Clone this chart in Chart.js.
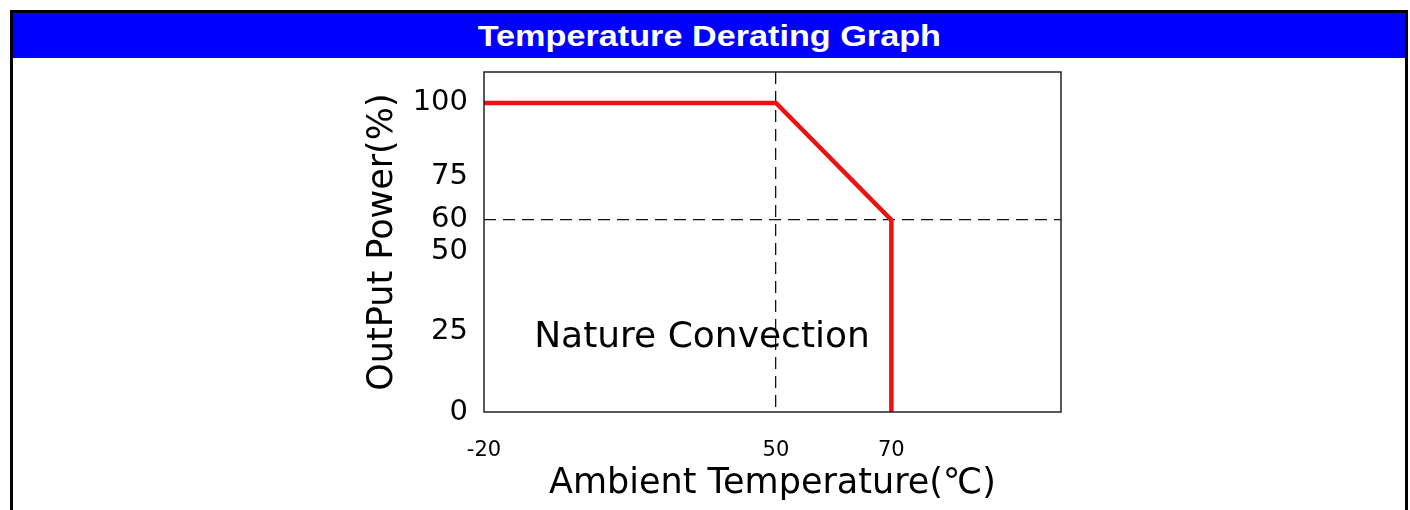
<!DOCTYPE html>
<html>
<head>
<meta charset="utf-8">
<title>Temperature Derating Graph</title>
<script src="https://cdn.jsdelivr.net/npm/chart.js@4.4.1/dist/chart.umd.min.js"></script>
<style>
  html, body { margin: 0; padding: 0; background: #fff; overflow: hidden; }
  #frame {
    position: absolute; left: 10px; top: 10px;
    width: 1392px; height: 500px;
    border: 3px solid #000; border-bottom: none;
  }
  #head {
    box-sizing: border-box;
    height: 45px; padding-top: 7px; line-height: 32px; overflow: hidden;
    background: #0000ff; color: #fff;
    font: bold 29px "Liberation Sans", Arial, sans-serif;
    text-align: center;
  }
  #head span { display: inline-block; transform: scaleX(1.18); }
  #derating { display: block; }
</style>
</head>
<body>
<div id="frame">
  <div id="head"><span>Temperature Derating Graph</span></div>
  <canvas id="derating" width="1392" height="452"></canvas>
</div>
<script>
// derating curve
var tempValues = [-20, 50, 70, 70];
var powerValues = [100, 100, 60, 0];

// axis ticks
var tempTicks = [-20, 50, 70];
var powerTicks = [0, 25, 50, 60, 75, 100];

// the drawing's axes are not evenly spaced, so map values piecewise
// [value, fraction of the axis length]
var tempStops = [[-20, 0], [50, 0.506], [70, 0.706], [100, 1]];
var powerStops = [[0, 0], [60, 0.565], [100, 0.909], [110, 1]];

function stopsFraction(s, value) {
  if (value <= s[0][0]) return s[0][1];
  for (var i = 1; i < s.length; i++) {
    if (value <= s[i][0]) {
      var t = (value - s[i - 1][0]) / (s[i][0] - s[i - 1][0]);
      return s[i - 1][1] + t * (s[i][1] - s[i - 1][1]);
    }
  }
  return s[s.length - 1][1];
}

function stopsValue(s, f) {
  if (f <= s[0][1]) return s[0][0];
  for (var i = 1; i < s.length; i++) {
    if (f <= s[i][1]) {
      var t = (f - s[i - 1][1]) / (s[i][1] - s[i - 1][1]);
      return s[i - 1][0] + t * (s[i][0] - s[i - 1][0]);
    }
  }
  return s[s.length - 1][0];
}

class StepScale extends Chart.LinearScale {
  getPixelForValue(value) {
    if (this.isHorizontal()) {
      return this.left + stopsFraction(tempStops, value) * this.width;
    }
    return this.bottom - stopsFraction(powerStops, value) * this.height;
  }
  getValueForPixel(pixel) {
    if (this.isHorizontal()) {
      return stopsValue(tempStops, (pixel - this.left) / this.width);
    }
    return stopsValue(powerStops, (this.bottom - pixel) / this.height);
  }
}
StepScale.id = 'step';
StepScale.defaults = Chart.LinearScale.defaults;
Chart.register(StepScale);

var font = '"DejaVu Sans", Verdana, sans-serif';

// box round the plot and the label inside it
var plotBox = {
  id: 'plotBox',
  afterDatasetsDraw: function (chart) {
    var a = chart.chartArea, ctx = chart.ctx;
    ctx.save();
    ctx.strokeStyle = '#222';
    ctx.lineWidth = 1.5;
    ctx.strokeRect(a.left, a.top, a.right - a.left, a.bottom - a.top);
    ctx.fillStyle = '#000';
    ctx.font = '36px ' + font;
    ctx.textAlign = 'center';
    ctx.textBaseline = 'middle';
    ctx.fillText('Nature Convection', a.left + 218, a.top + 266);
    ctx.restore();
  }
};

var points = tempValues.map(function (t, i) { return { x: t, y: powerValues[i] }; });

new Chart(document.getElementById('derating'), {
  type: 'line',
  data: {
    datasets: [{
      data: points,
      borderColor: '#ee1111',
      borderWidth: 4.5,
      pointRadius: 0,
      tension: 0,
      fill: false
    }]
  },
  options: {
    responsive: false,
    animation: false,
    layout: { padding: { left: 330, right: 344, top: 14, bottom: 0 } },
    plugins: { legend: { display: false }, tooltip: { enabled: false } },
    scales: {
      x: {
        type: 'step',
        min: -20,
        max: 100,
        afterBuildTicks: function (scale) {
          scale.ticks = tempTicks.map(function (v) { return { value: v }; });
        },
        afterFit: function (scale) {
          scale.height = 98;
          scale.paddingLeft = 0;
          scale.paddingRight = 0;
        },
        grid: {
          drawTicks: false,
          color: function (c) { return c.tick && c.tick.value === 50 ? '#111' : 'rgba(0,0,0,0)'; },
          lineWidth: 1.3
        },
        border: { display: false, dash: [12, 7] },
        ticks: { color: '#000', font: { family: font, size: 21 }, padding: 26, maxRotation: 0 },
        title: {
          display: true,
          text: 'Ambient Temperature(℃)',
          color: '#000',
          font: { family: font, size: 35 },
          padding: { top: 0, bottom: 5 }
        }
      },
      y: {
        type: 'step',
        min: 0,
        max: 110,
        afterBuildTicks: function (scale) {
          scale.ticks = powerTicks.map(function (v) { return { value: v }; });
        },
        afterFit: function (scale) {
          scale.width = 141;
          scale.paddingTop = 0;
          scale.paddingBottom = 0;
        },
        grid: {
          drawTicks: false,
          color: function (c) { return c.tick && c.tick.value === 60 ? '#111' : 'rgba(0,0,0,0)'; },
          lineWidth: 1.3
        },
        border: { display: false, dash: [12, 7] },
        ticks: { color: '#000', font: { family: font, size: 29 }, padding: 16 },
        title: {
          display: true,
          text: 'OutPut Power(%)',
          color: '#000',
          font: { family: font, size: 35 },
          padding: { top: 19, bottom: 0 }
        }
      }
    }
  },
  plugins: [plotBox]
});
</script>
</body>
</html>
